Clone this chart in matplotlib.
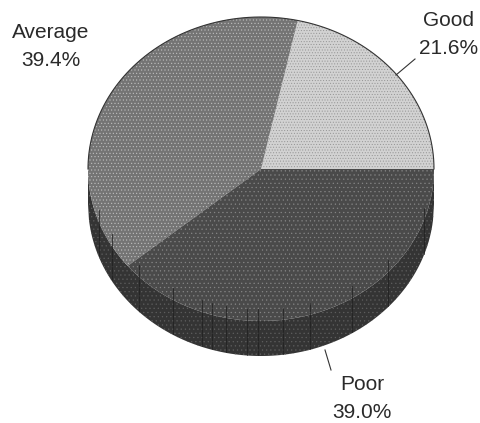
#!/usr/bin/env python3

import numpy as np
import matplotlib
matplotlib.use('Agg')
from matplotlib import pyplot as plt

labels = ['Good', 'Average', 'Poor']
shares = [21.6, 39.4, 39.0]
percents = ['21.6%', '39.4%', '39.0%']
colors = ['#d2d2d2', '#747474', '#4a4a4a']
dot_colors = ['#949494', '#c0c0c0', '#858585']
dot_hatches = ['......', '.....', '....']

W, H = 481, 423
plt.rcParams['font.family'] = ['Liberation Sans', 'DejaVu Sans']
plt.rcParams['hatch.linewidth'] = 0.4

fig = plt.figure(figsize=(W / 100, H / 100), dpi=100)
ax = fig.add_axes([0, 0, 1, 1])
ax.set_xlim(0, W)
ax.set_ylim(H, 0)
ax.axis('off')

cx, cy, rx, ry, depth = 261, 169, 173, 152, 35

# side wall, only the lower half of the disc shows it
wall_x = np.linspace(cx - rx, cx + rx, 347)
wall_top = cy + ry * np.sqrt(np.clip(1 - ((wall_x - cx) / rx) ** 2, 0, 1))
ax.fill_between(wall_x, wall_top, wall_top + depth, facecolor='#343434', edgecolor='#5e5e5e',
                hatch='....', lw=0, zorder=1)

# slices, anticlockwise from 3 o'clock
start = 0.0
for share, col, dot, hatch in zip(shares, colors, dot_colors, dot_hatches):
    a = np.radians(np.linspace(start, start + share * 3.6, 200))
    px = np.r_[cx, cx + rx * np.cos(a), cx]
    py = np.r_[cy, cy - ry * np.sin(a), cy]
    ax.fill(px, py, facecolor=col, edgecolor=dot, hatch=hatch, lw=0, zorder=3)
    start += share * 3.6

# the few dark scan lines running down the wall
for vx in [99, 112, 139, 173, 202, 212, 226, 247, 258, 283, 310, 352, 388, 424]:
    t = cy + ry * np.sqrt(max(1 - ((vx - cx) / rx) ** 2, 0))
    ax.plot([vx, vx], [t - 12, t + depth - 1], color='#1e1e1e', lw=0.5, zorder=4)

# thin rim on the upper half
a = np.linspace(0, np.pi, 200)
ax.plot(cx + rx * np.cos(a), cy - ry * np.sin(a), color='#333333', lw=0.8, zorder=4)

# labels
for x, y, name, pct in [(449, 35, labels[0], percents[0]),
                        (51, 47, labels[1], percents[1]),
                        (362, 398, labels[2], percents[2])]:
    ax.text(x, y, name + '\n' + pct, ha='center', va='center', fontsize=15,
            color='#2a2a2a', linespacing=1.6)
ax.plot([415, 396], [59, 75], color='#333333', lw=0.8, zorder=5)
ax.plot([331, 325], [370, 350], color='#333333', lw=0.8, zorder=5)

fig.savefig('out.png', dpi=100)
